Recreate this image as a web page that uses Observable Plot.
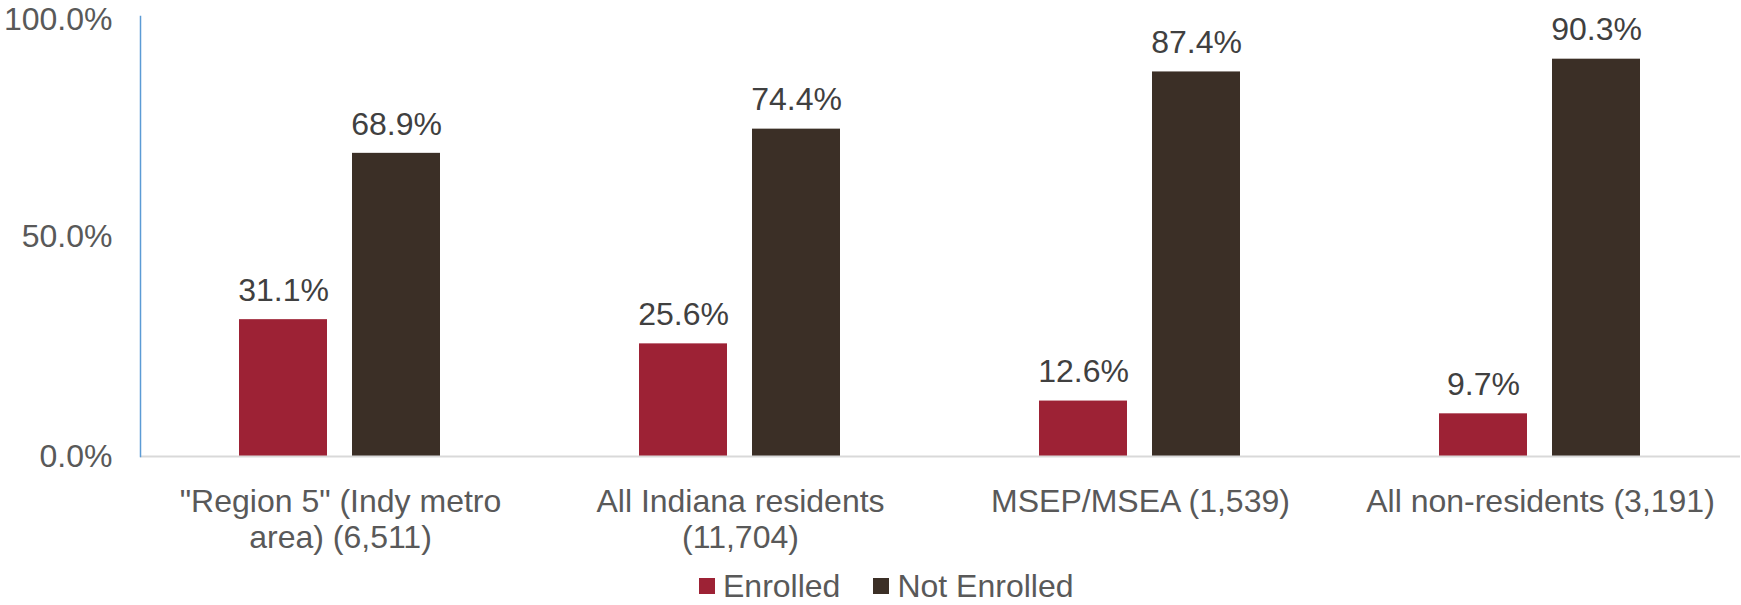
<!DOCTYPE html>
<html>
<head>
<meta charset="utf-8">
<script src="https://cdn.jsdelivr.net/npm/d3@7"></script>
<script src="https://cdn.jsdelivr.net/npm/@observablehq/plot@0.6"></script>
<style>
  html, body { margin: 0; padding: 0; background: #fff; }
  #wrap { position: relative; width: 1741px; height: 605px; font-family: "Liberation Sans", Arial, sans-serif; }
  #legend { position: absolute; left: 699px; top: 573px; height: 26px; display: flex; align-items: center; font-size: 32px; color: #595959; }
  .item { display: flex; align-items: center; margin-right: 33px; }
  .sw { width: 16px; height: 16px; margin-right: 8px; }
  .lbl { display: block; line-height: 26px; height: 26px; }
</style>
</head>
<body>
<div id="wrap"><div id="chart"></div><div id="legend"></div></div>
<script>
const categories = ['"Region 5" (Indy metro area) (6,511)', 'All Indiana residents (11,704)', 'MSEP/MSEA (1,539)', 'All non-residents (3,191)'];
const categoryLabels = ['"Region 5" (Indy metro\narea) (6,511)', 'All Indiana residents\n(11,704)', 'MSEP/MSEA (1,539)', 'All non-residents (3,191)'];
const series = ["Enrolled", "Not Enrolled"];
const enrolled = [31.1, 25.6, 12.6, 9.7];
const notEnrolled = [68.9, 74.4, 87.4, 90.3];
const yTicks = [0, 50, 100];
const colors = ["#9D2235", "#3B2F26"];

const rows = [];
categories.forEach((c, i) => {
  rows.push({cat: c, series: series[0], value: enrolled[i]});
  rows.push({cat: c, series: series[1], value: notEnrolled[i]});
});

const pct = d => d.toFixed(1) + "%";
const axisOpts = {tickSize: 0, tickPadding: 28, tickFormat: pct, label: null, fill: "#595959", fontSize: 32};

const chart = Plot.plot({
  width: 1741,
  height: 565,
  marginLeft: 138,
  marginRight: 0,
  marginTop: 16,
  marginBottom: 109,
  style: {fontFamily: '"Liberation Sans", Arial, sans-serif', fontSize: "32px", color: "#595959", background: "#fff", overflow: "visible"},
  fx: {domain: categories, padding: 0, axis: null},
  x: {domain: series, paddingInner: 0.22, paddingOuter: 0.868, axis: null},
  y: {domain: [0, 100]},
  color: {domain: series, range: colors},
  marks: [
    Plot.axisY({...axisOpts, ticks: yTicks.slice(0, -1)}),
    Plot.axisY({...axisOpts, ticks: yTicks.slice(-1), dy: 3}),
    Plot.barY(rows, {fx: "cat", x: "series", y: "value", fill: "series"}),
    Plot.ruleY([0], {stroke: "#D9D9D9", strokeWidth: 2}),
    Plot.frame({anchor: "left", facetAnchor: "left", stroke: "#5B9BD5", strokeWidth: 1.5}),
    Plot.text(rows, {fx: "cat", x: "series", y: "value", text: d => pct(d.value), dy: -29, fill: "#404040", fontSize: 32}),
    Plot.text(categories, {fx: d => d, text: d => categoryLabels[categories.indexOf(d)], frameAnchor: "bottom", lineAnchor: "top", dy: 30, lineHeight: 1.13, fill: "#595959", fontSize: 32})
  ]
});
document.getElementById("chart").appendChild(chart);

const legend = document.getElementById("legend");
series.forEach((s, i) => {
  const item = document.createElement("div");
  item.className = "item";
  const sw = document.createElement("div");
  sw.className = "sw";
  sw.style.background = colors[i];
  const t = document.createElement("span");
  t.className = "lbl";
  t.textContent = s;
  item.appendChild(sw);
  item.appendChild(t);
  legend.appendChild(item);
});
</script>
</body>
</html>
